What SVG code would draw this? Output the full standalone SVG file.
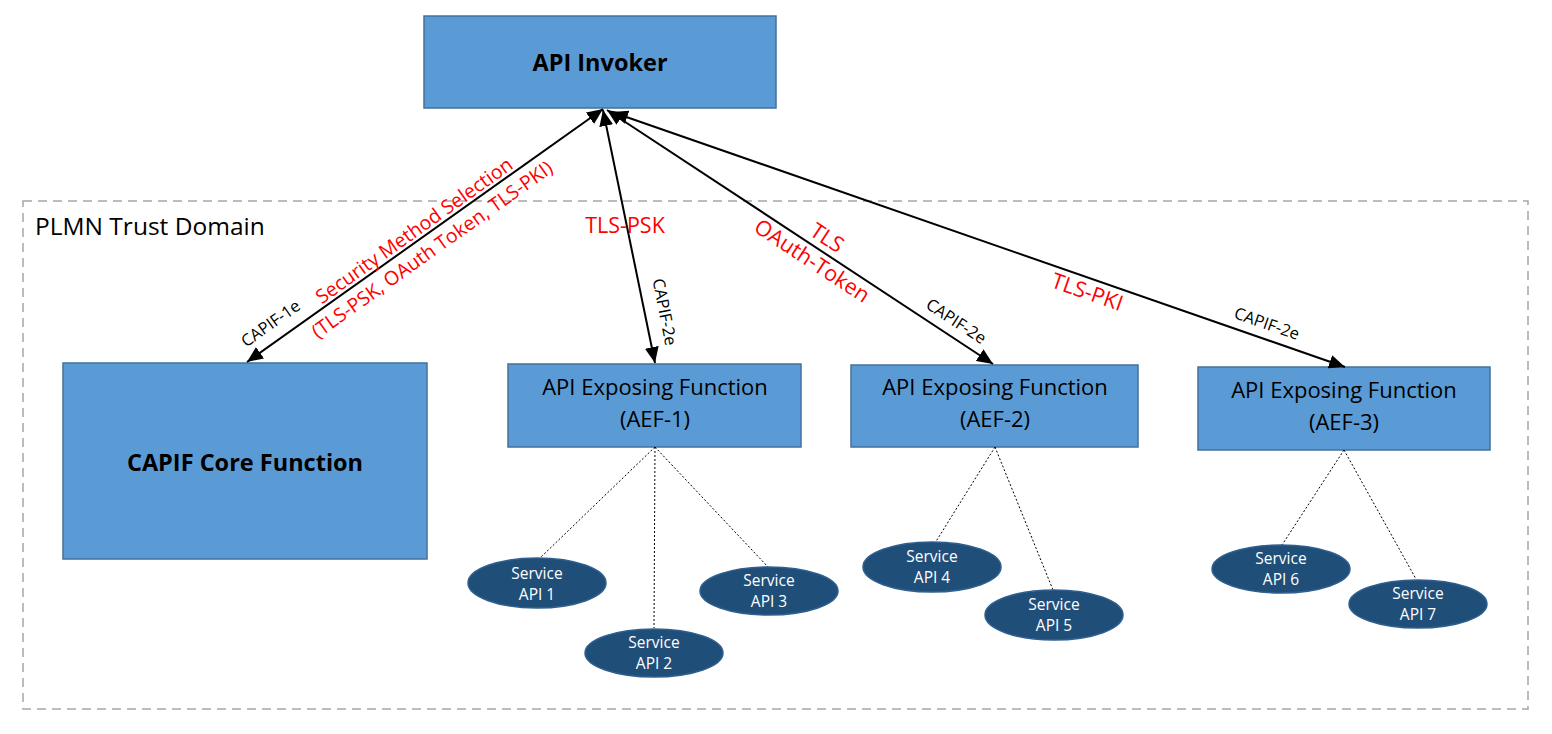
<svg xmlns="http://www.w3.org/2000/svg" width="1552" height="734" viewBox="0 0 1552 734">
<style>
.box{fill:#5B9BD5;stroke:#41719C;stroke-width:1.5}
.ell{fill:#1F4E79;stroke:#2E5F8E;stroke-width:1.5}
.t{font-family:"Open Sans","DejaVu Sans",sans-serif;text-anchor:middle}
.bt{font-size:23.5px;font-weight:bold;fill:#000}
.nt{font-size:22px;fill:#000}
.st{font-size:15.5px;fill:#fff}
.red{font-size:21.5px;fill:#FF0000}
.lab{font-size:16.5px;fill:#000}
.arr{stroke:#000;stroke-width:2;fill:none;marker-start:url(#ah);marker-end:url(#ah)}
.dash{stroke:#000;stroke-width:1;stroke-dasharray:2,2;fill:none}
</style>
<defs>
<marker id="ah" viewBox="0 0 10 10" refX="10" refY="5" markerWidth="8" markerHeight="7" orient="auto-start-reverse" markerUnits="strokeWidth" preserveAspectRatio="none">
<path d="M0,0 L10,5 L0,10 z" fill="#000"/>
</marker>
</defs>
<rect x="0" y="0" width="1552" height="734" fill="#fff"/>
<g id="trust-domain">
<rect x="23" y="201" width="1505" height="508" fill="none" stroke="#A6A6A6" stroke-width="1.5" stroke-dasharray="9,6"/>
<text class="t" x="35" y="235" style="text-anchor:start;font-size:24.5px">PLMN Trust Domain</text>
</g>
<g id="api-invoker">
<rect class="box" x="424" y="16" width="352" height="92"/>
<text class="t bt" x="600" y="71">API Invoker</text>
</g>
<g id="capif-core">
<rect class="box" x="63" y="363" width="364" height="196"/>
<text class="t bt" x="245" y="471">CAPIF Core Function</text>
</g>
<g id="aef-1">
<rect class="box" x="508" y="364" width="293" height="83"/>
<text class="t nt" x="655" y="395">API Exposing Function</text>
<text class="t nt" x="655" y="427">(AEF-1)</text>
</g>
<g id="aef-2">
<rect class="box" x="851" y="365" width="287" height="82"/>
<text class="t nt" x="995" y="395">API Exposing Function</text>
<text class="t nt" x="995" y="427">(AEF-2)</text>
</g>
<g id="aef-3">
<rect class="box" x="1198" y="367" width="292" height="83"/>
<text class="t nt" x="1344" y="398">API Exposing Function</text>
<text class="t nt" x="1344" y="430">(AEF-3)</text>
</g>
<g id="connectors">
<line class="arr" x1="603" y1="109" x2="247" y2="362"/>
<line class="arr" x1="603" y1="110" x2="655" y2="363"/>
<line class="arr" x1="607" y1="110" x2="993" y2="364"/>
<line class="arr" x1="612" y1="112" x2="1345" y2="367"/>
<line class="dash" x1="655" y1="447" x2="540" y2="558"/>
<line class="dash" x1="655" y1="447" x2="654" y2="628"/>
<line class="dash" x1="655" y1="447" x2="768" y2="567"/>
<line class="dash" x1="995" y1="447" x2="935" y2="543"/>
<line class="dash" x1="995" y1="447" x2="1053" y2="590"/>
<line class="dash" x1="1344" y1="450" x2="1282" y2="545"/>
<line class="dash" x1="1344" y1="450" x2="1416" y2="579"/>
</g>
<g id="labels">
<text class="t red" style="font-size:19.5px" transform="translate(418,236) rotate(-35.4)">Security Method Selection</text>
<text class="t red" style="font-size:19.5px" transform="translate(436,255) rotate(-35.4)">(TLS-PSK, OAuth Token, TLS-PKI)</text>
<text class="t lab" transform="translate(274,328) rotate(-35.4)">CAPIF-1e</text>
<text class="t red" x="625" y="233">TLS-PSK</text>
<text class="t lab" transform="translate(659,313) rotate(78.8)">CAPIF-2e</text>
<text class="t red" transform="translate(823,244) rotate(33.3)">TLS</text>
<text class="t red" transform="translate(808,267) rotate(33.3)">OAuth-Token</text>
<text class="t lab" transform="translate(953,326) rotate(33.3)">CAPIF-2e</text>
<text class="t red" transform="translate(1085,299) rotate(19.2)">TLS-PKI</text>
<text class="t lab" transform="translate(1265,329) rotate(19.2)">CAPIF-2e</text>
</g>
<g id="service-api-1"><ellipse class="ell" cx="537" cy="583" rx="69" ry="25"/><text class="t st" x="537" y="579">Service</text><text class="t st" x="537" y="600">API 1</text></g>
<g id="service-api-2"><ellipse class="ell" cx="654" cy="653" rx="69" ry="24"/><text class="t st" x="654" y="648">Service</text><text class="t st" x="654" y="669">API 2</text></g>
<g id="service-api-3"><ellipse class="ell" cx="769" cy="591" rx="69" ry="24"/><text class="t st" x="769" y="586">Service</text><text class="t st" x="769" y="607">API 3</text></g>
<g id="service-api-4"><ellipse class="ell" cx="932" cy="567" rx="69" ry="25"/><text class="t st" x="932" y="562">Service</text><text class="t st" x="932" y="583">API 4</text></g>
<g id="service-api-5"><ellipse class="ell" cx="1054" cy="615" rx="69" ry="25"/><text class="t st" x="1054" y="610">Service</text><text class="t st" x="1054" y="631">API 5</text></g>
<g id="service-api-6"><ellipse class="ell" cx="1281" cy="569" rx="69" ry="24"/><text class="t st" x="1281" y="564">Service</text><text class="t st" x="1281" y="585">API 6</text></g>
<g id="service-api-7"><ellipse class="ell" cx="1418" cy="604" rx="69" ry="24"/><text class="t st" x="1418" y="599">Service</text><text class="t st" x="1418" y="620">API 7</text></g>
</svg>
